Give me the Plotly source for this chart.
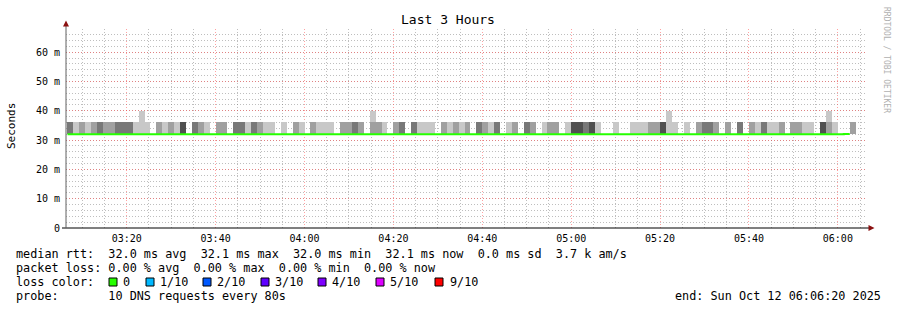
import plotly.graph_objects as go
from datetime import datetime, timedelta

# ---------------- data ----------------
STEP_SECONDS = 80
first_step = datetime(2025, 10, 12, 3, 6, 40)
view_start = datetime(2025, 10, 12, 3, 6, 20)
view_end = datetime(2025, 10, 12, 6, 6, 20)

# smoke density level per 80 s step (0 = no smoke, 4 = densest)
smoke_shade = [3, 1, 2, 1, 2, 3, 2, 2, 3, 3, 3, 1, 1, 1, 0, 2, 1, 2, 1, 4, 0, 3, 2, 1, 0, 2, 2, 0, 3, 3, 1, 3, 2,
               1, 1, 0, 1, 0, 2, 1, 0, 2, 1, 1, 1, 0, 2, 2, 3, 2, 0, 2, 2, 1, 0, 2, 3, 0, 3, 1, 1, 1, 0, 2, 1, 2, 1,
               2, 0, 3, 2, 1, 3, 0, 1, 2, 0, 3, 2, 0, 1, 2, 2, 0, 1, 4, 4, 3, 4, 1, 0, 0, 1, 0, 0, 1, 1, 1, 2, 2,
               4, 1, 1, 0, 1, 0, 2, 3, 3, 2, 0, 2, 0, 3, 0, 2, 1, 3, 1, 1, 2, 0, 2, 2, 1, 1, 0, 4, 2, 1, 0, 0, 2]
smoke_low_ms = 32.0
smoke_high_ms = 36.1
spike_steps = [12, 51, 101, 128]
spike_high_ms = 40.0

median_ms = [32.0, 32.0, 32.0, 32.0, 32.0, 32.0, 32.0, 32.0, 32.0, 32.0, 32.0, 32.0, 32.0, 32.0, 32.0, 32.0, 32.0,
             32.0, 32.0, 32.0, 32.0, 32.0, 32.0, 32.0, 32.0, 32.0, 32.0, 32.0, 32.0, 32.0, 32.0, 32.0, 32.0, 32.0,
             32.0, 32.0, 32.0, 32.0, 32.0, 32.0, 32.0, 32.0, 32.0, 32.0, 32.0, 32.0, 32.0, 32.0, 32.0, 32.0, 32.0,
             32.0, 32.0, 32.0, 32.0, 32.0, 32.0, 32.0, 32.0, 32.0, 32.0, 32.0, 32.0, 32.0, 32.0, 32.0, 32.0, 32.0,
             32.0, 32.0, 32.0, 32.0, 32.0, 32.0, 32.0, 32.0, 32.0, 32.0, 32.0, 32.0, 32.0, 32.0, 32.0, 32.0, 32.0,
             32.0, 32.0, 32.0, 32.0, 32.0, 32.0, 32.0, 32.0, 32.0, 32.0, 32.0, 32.0, 32.0, 32.0, 32.0, 32.0, 32.0,
             32.0, 32.0, 32.0, 32.0, 32.0, 32.0, 32.0, 32.0, 32.0, 32.0, 32.0, 32.0, 32.0, 32.0, 32.0, 32.0, 32.0,
             32.0, 32.0, 32.0, 32.0, 32.0, 32.0, 32.0, 32.0, 32.0, 32.0, 32.0, 32.0, 32.1]

y_tick_vals = [0, 10, 20, 30, 40, 50, 60]
y_tick_text = ["0", "10 m", "20 m", "30 m", "40 m", "50 m", "60 m"]

legend_lines = [
    "median rtt:  32.0 ms avg  32.1 ms max  32.0 ms min  32.1 ms now  0.0 ms sd  3.7 k am/s",
    "packet loss: 0.00 % avg  0.00 % max  0.00 % min  0.00 % now",
    "loss color:",
    "probe:       10 DNS requests every 80s",
]
loss_labels = ["0", "1/10", "2/10", "3/10", "4/10", "5/10", "9/10"]
loss_colors = ["#26ff00", "#00b8ff", "#0059ff", "#5e00ff", "#7e00ff", "#dd00ff", "#ff0000"]
end_text = "end: Sun Oct 12 06:06:20 2025"

# ---------------- styling ----------------
shade_colors = {1: "#c8c8c8", 2: "#a0a0a0", 3: "#787878", 4: "#505050"}
MONO = "DejaVu Sans Mono"
W, H = 897, 310
PL, PR, PT, PB = 66, 866, 29, 228  # plot area pixels


def px(x):
    return (x - PL) / (PR - PL)


def py(y):
    return (PB - y) / (PB - PT)


n = len(smoke_shade)
step_start = [first_step + timedelta(seconds=STEP_SECONDS * i) for i in range(n)]
step_mid = [t + timedelta(seconds=STEP_SECONDS / 2) for t in step_start]

fig = go.Figure()

# smoke bars grouped by shade
for lvl, col in shade_colors.items():
    idx = [i for i in range(n) if smoke_shade[i] == lvl]
    fig.add_trace(go.Bar(
        x=[step_mid[i] for i in idx],
        y=[smoke_high_ms - smoke_low_ms for _ in idx],
        base=smoke_low_ms,
        width=STEP_SECONDS * 1000,
        marker=dict(color=col, line=dict(width=0)),
        showlegend=False, hoverinfo="skip",
    ))

# spikes
fig.add_trace(go.Bar(
    x=[step_mid[i] for i in spike_steps],
    y=[spike_high_ms - smoke_high_ms for _ in spike_steps],
    base=smoke_high_ms,
    width=STEP_SECONDS * 1000,
    marker=dict(color="#c8c8c8", line=dict(width=0)),
    showlegend=False, hoverinfo="skip",
))

# median line
line_x = step_start + [step_start[-1] + timedelta(seconds=STEP_SECONDS)]
line_y = median_ms + [median_ms[-1]]
fig.add_trace(go.Scatter(
    x=line_x, y=line_y, mode="lines", line=dict(color=loss_colors[0], width=2, shape="hv"),
    showlegend=False, hoverinfo="skip",
))

major_grid = "rgba(255,70,70,0.5)"
minor_grid = "rgba(110,110,110,0.45)"
GDASH = "1px,2px"

fig.update_layout(
    width=W, height=H,
    margin=dict(l=PL, r=W - PR, t=PT, b=H - PB),
    paper_bgcolor="white", plot_bgcolor="white",
    barmode="overlay", bargap=0,
    font=dict(family=MONO, size=10, color="black"),
    title=dict(text="Last 3 Hours", x=(448) / W, xanchor="center", y=1 - 19 / H, yanchor="middle",
               font=dict(family=MONO, size=13, color="black")),
    xaxis=dict(
        type="date", range=[view_start, view_end],
        tickformat="%H:%M", dtick=20 * 60 * 1000, tick0="2025-10-12 03:20:00",
        showgrid=True, gridcolor=major_grid, griddash=GDASH, gridwidth=1,
        minor=dict(dtick=5 * 60 * 1000, tick0="2025-10-12 03:20:00", showgrid=True,
                   gridcolor=minor_grid, griddash=GDASH, gridwidth=1),
        showline=False, zeroline=False, ticks="", ticklabelstandoff=3,
        tickfont=dict(family=MONO, size=10, color="black"),
        fixedrange=True,
    ),
    yaxis=dict(
        range=[0, 67.9], tickvals=y_tick_vals, ticktext=y_tick_text,
        showgrid=True, gridcolor=major_grid, griddash=GDASH, gridwidth=1,
        minor=dict(dtick=2, showgrid=True, gridcolor=minor_grid, griddash=GDASH, gridwidth=1),
        showline=False, zeroline=False, ticks="outside", ticklen=3, tickcolor="rgba(0,0,0,0)",
        tickfont=dict(family=MONO, size=10, color="black"),
        fixedrange=True,
    ),
)

shapes = []
# axes lines
shapes.append(dict(type="line", xref="paper", yref="paper", x0=px(62), x1=px(870), y0=0, y1=0,
                   line=dict(color="black", width=1)))
shapes.append(dict(type="line", xref="paper", yref="paper", x0=0, x1=0, y0=0, y1=py(24),
                   line=dict(color="#606060", width=1)))
# arrow heads
shapes.append(dict(type="path", xref="paper", yref="paper",
                   path=f"M {px(66)} {py(20.5)} L {px(63)} {py(26.5)} L {px(69)} {py(26.5)} Z",
                   fillcolor="#8b1010", line=dict(width=0)))
shapes.append(dict(type="path", xref="paper", yref="paper",
                   path=f"M {px(874.5)} {py(228)} L {px(868.5)} {py(225)} L {px(868.5)} {py(231)} Z",
                   fillcolor="#8b1010", line=dict(width=0)))

annotations = []
# y axis title
annotations.append(dict(text="Seconds", xref="paper", yref="paper", x=px(11), y=py(126),
                        xanchor="center", yanchor="middle", textangle=-90, showarrow=False,
                        font=dict(family=MONO, size=11, color="black")))
# watermark
annotations.append(dict(text="RRDTOOL / TOBI OETIKER", xref="paper", yref="paper", x=px(886), y=py(5),
                        xanchor="center", yanchor="top", textangle=90, showarrow=False,
                        font=dict(family=MONO, size=8, color="#b0b0b0")))

LEG_FS = 11.8
PAD = 2  # annotation box padding
line_ys = [254, 268, 282, 296]
for txt, yy in zip(legend_lines, line_ys):
    annotations.append(dict(text=txt.replace(" ", "&nbsp;"), xref="paper", yref="paper", x=px(16 - PAD), y=py(yy),
                            xanchor="left", yanchor="middle", showarrow=False,
                            font=dict(family=MONO, size=LEG_FS, color="black")))

sq_left = [109, 146, 203, 261, 318, 376, 435]
lab_left = [123, 160, 217, 275, 332, 390, 450]
for lab, col, sx, lx in zip(loss_labels, loss_colors, sq_left, lab_left):
    shapes.append(dict(type="rect", xref="paper", yref="paper",
                       x0=px(sx), x1=px(sx + 8), y0=py(278), y1=py(286),
                       fillcolor=col, line=dict(color="black", width=1)))
    annotations.append(dict(text=lab, xref="paper", yref="paper", x=px(lx - PAD), y=py(282),
                            xanchor="left", yanchor="middle", showarrow=False,
                            font=dict(family=MONO, size=LEG_FS, color="black")))

annotations.append(dict(text=end_text, xref="paper", yref="paper", x=px(881 + PAD), y=py(296),
                        xanchor="right", yanchor="middle", showarrow=False,
                        font=dict(family=MONO, size=LEG_FS, color="black")))

fig.update_layout(shapes=shapes, annotations=annotations)
fig.write_html("out.html")
